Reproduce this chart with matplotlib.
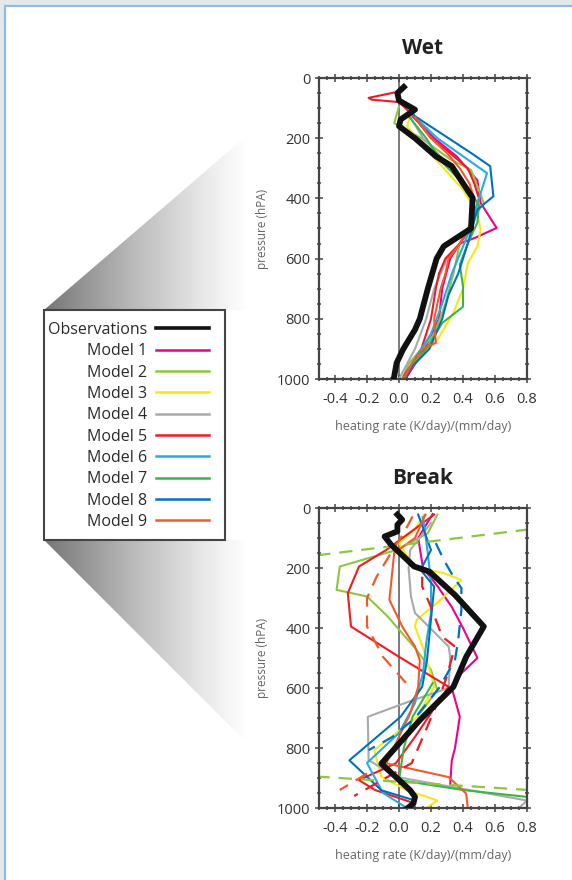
import matplotlib.pyplot as plt
import numpy as np
from matplotlib.colors import LinearSegmentedColormap
from matplotlib.lines import Line2D
from matplotlib.patches import Polygon, Rectangle
from matplotlib.ticker import MultipleLocator

plt.rcParams['font.family'] = ['Open Sans', 'DejaVu Sans']

# ---- legend / series names and colours ----
names = ["Observations", "Model 1", "Model 2", "Model 3", "Model 4", "Model 5",
         "Model 6", "Model 7", "Model 8", "Model 9"]
colors = ["#111111", "#ec008c", "#8dc63f", "#f5e816", "#a7a9ac", "#ed1c24",
          "#29abe2", "#39b54a", "#0072bc", "#f15a29"]

# ---- Wet regime: pressure (hPa) and heating rate ((K/day)/(mm/day)) ----
wet_obs_p = [30, 50, 75, 105, 138, 160, 200, 260, 293, 350, 398, 450, 500, 559, 600, 700, 800, 836, 902, 947, 991]
wet_obs_x = [0.03, -0.01, 0.0, 0.10, 0.01, 0.0, 0.10, 0.23, 0.33, 0.40, 0.46, 0.455, 0.45, 0.28, 0.235, 0.18, 0.13, 0.10, 0.025, -0.015, -0.03]

wet_m1_p = [125, 200, 260, 340, 415, 498, 530, 550, 600, 700, 800, 900, 1000]
wet_m1_x = [0.08, 0.22, 0.36, 0.49, 0.51, 0.61, 0.48, 0.38, 0.32, 0.27, 0.25, 0.16, 0.04]
wet_m2_p = [94, 150, 200, 270, 305, 415, 470, 550, 650, 750, 850, 950, 1000]
wet_m2_x = [0.0, -0.03, 0.14, 0.32, 0.45, 0.53, 0.46, 0.38, 0.34, 0.29, 0.22, 0.06, 0.02]
wet_m3_p = [110, 160, 230, 300, 371, 450, 504, 560, 615, 700, 780, 870, 950, 1000]
wet_m3_x = [0.08, 0.05, 0.16, 0.28, 0.40, 0.49, 0.51, 0.49, 0.43, 0.40, 0.34, 0.24, 0.08, 0.02]
wet_m4_p = [120, 200, 300, 400, 500, 600, 700, 800, 900, 1000]
wet_m4_x = [0.06, 0.15, 0.33, 0.47, 0.46, 0.30, 0.22, 0.17, 0.10, 0.0]
wet_m5_p = [45, 66, 72, 80, 120, 200, 250, 300, 350, 400, 450, 500, 550, 600, 650, 700, 800, 900, 950, 990]
wet_m5_x = [0.0, -0.19, -0.17, 0.0, 0.08, 0.20, 0.32, 0.43, 0.47, 0.50, 0.47, 0.44, 0.38, 0.29, 0.25, 0.23, 0.20, 0.14, 0.08, 0.03]
wet_m6_p = [120, 200, 260, 316, 400, 480, 560, 650, 750, 850, 950, 1000]
wet_m6_x = [0.08, 0.24, 0.40, 0.55, 0.50, 0.46, 0.40, 0.33, 0.27, 0.20, 0.08, 0.03]
wet_m7_p = [120, 200, 280, 350, 420, 480, 550, 620, 692, 760, 814, 900, 1000]
wet_m7_x = [0.05, 0.17, 0.27, 0.40, 0.50, 0.49, 0.43, 0.38, 0.40, 0.40, 0.27, 0.17, 0.02]
wet_m8_p = [105, 127, 249, 293, 393, 437, 550, 650, 720, 800, 900, 960, 1000]
wet_m8_x = [0.07, 0.10, 0.45, 0.57, 0.59, 0.49, 0.43, 0.37, 0.31, 0.27, 0.19, 0.08, 0.03]
wet_m9_p = [130, 200, 250, 300, 350, 400, 450, 500, 550, 600, 650, 700, 800, 880, 900, 950, 1000]
wet_m9_x = [0.10, 0.20, 0.30, 0.38, 0.44, 0.47, 0.45, 0.44, 0.38, 0.31, 0.29, 0.26, 0.22, 0.23, 0.15, 0.08, 0.03]

# ---- Break regime ----
brk_obs_p = [22, 39, 56, 78, 95, 122, 195, 212, 290, 395, 496, 596, 707, 852, 941, 963, 985, 1002]
brk_obs_x = [-0.01, 0.02, -0.01, -0.01, -0.09, -0.05, 0.095, 0.19, 0.35, 0.53, 0.42, 0.34, 0.13, -0.11, 0.07, 0.10, 0.09, 0.05]

brk_m1_p = [20, 100, 200, 260, 330, 400, 500, 551, 600, 696, 800, 841, 920]
brk_m1_x = [0.21, 0.12, 0.15, 0.24, 0.33, 0.40, 0.49, 0.39, 0.33, 0.38, 0.35, 0.33, 0.32]
brk_m2_p = [22, 84, 139, 195, 273, 295, 362, 473, 540, 607, 685]
brk_m2_x = [0.24, 0.18, -0.01, -0.37, -0.39, -0.20, -0.07, 0.11, 0.20, 0.24, 0.13]
brk_m2d_p = [46, 170, 889, 953]
brk_m2d_x = [1.2, -0.7, -0.7, 1.2]
brk_m3_p = [22, 73, 117, 195, 217, 240, 306, 373, 395, 473, 596, 696, 807, 896, 941, 975, 997]
brk_m3_x = [0.155, 0.10, 0.0, 0.09, 0.28, 0.39, 0.26, 0.11, 0.10, 0.155, 0.22, 0.115, -0.155, -0.11, 0.05, 0.24, 0.18]
brk_m4_p = [50, 140, 200, 296, 350, 395, 462, 496, 600, 641, 696, 840, 896, 975, 1000]
brk_m4_x = [0.20, 0.07, 0.06, 0.075, 0.10, 0.185, 0.31, 0.32, 0.31, 0.085, -0.195, -0.19, -0.02, 0.80, 0.75]
brk_m5_p = [22, 140, 195, 284, 395, 496, 596, 763, 851, 907, 940, 985]
brk_m5_x = [0.22, -0.08, -0.25, -0.32, -0.30, 0.0, 0.31, 0.10, -0.02, -0.25, -0.15, 0.10]
brk_m5d_p = [229, 262, 330, 429, 462, 560, 650, 750, 850, 960]
brk_m5d_x = [0.145, 0.145, 0.20, 0.27, 0.35, 0.30, 0.24, 0.16, 0.08, -0.28]
brk_m6_p = [30, 150, 250, 350, 450, 550, 650, 750, 850, 950, 1000]
brk_m6_x = [0.15, 0.18, 0.20, 0.20, 0.17, 0.15, 0.10, 0.0, -0.20, -0.10, 0.05]
brk_m7_p = [584, 696, 800, 907, 940, 963]
brk_m7_x = [0.21, 0.085, 0.03, 0.0, 0.40, 0.80]
brk_m8_p = [22, 140, 206, 262, 507, 596, 696, 841, 941, 975, 1000]
brk_m8_x = [0.12, 0.20, 0.135, 0.22, 0.175, 0.145, 0.01, -0.31, -0.11, 0.10, 0.08]
brk_m8d_p = [117, 173, 229, 267, 340, 440, 507, 600, 700, 763, 807]
brk_m8d_x = [0.23, 0.28, 0.34, 0.39, 0.39, 0.37, 0.35, 0.25, 0.10, -0.04, -0.19]
brk_m9_p = [22, 100, 150, 306, 395, 462, 507, 596, 685, 851, 897, 952, 1000]
brk_m9_x = [0.165, 0.10, -0.03, -0.06, 0.02, 0.10, 0.13, 0.12, 0.07, -0.08, 0.31, 0.42, 0.43]
brk_m9d_p = [28, 83, 150, 229, 300, 395, 496, 584]
brk_m9d_x = [0.085, 0.03, -0.05, -0.14, -0.20, -0.20, -0.10, 0.045]
brk_m9d2_p = [885, 940]
brk_m9d2_x = [-0.20, -0.37]

wet_models = [(wet_m1_x, wet_m1_p), (wet_m2_x, wet_m2_p), (wet_m3_x, wet_m3_p),
              (wet_m4_x, wet_m4_p), (wet_m5_x, wet_m5_p), (wet_m6_x, wet_m6_p),
              (wet_m7_x, wet_m7_p), (wet_m8_x, wet_m8_p), (wet_m9_x, wet_m9_p)]
brk_models = [(brk_m1_x, brk_m1_p), (brk_m2_x, brk_m2_p), (brk_m3_x, brk_m3_p),
              (brk_m4_x, brk_m4_p), (brk_m5_x, brk_m5_p), (brk_m6_x, brk_m6_p),
              (brk_m7_x, brk_m7_p), (brk_m8_x, brk_m8_p), (brk_m9_x, brk_m9_p)]
# dashed companion runs: (colour index, x, p)
brk_dashed = [(2, brk_m2d_x, brk_m2d_p), (5, brk_m5d_x, brk_m5d_p),
              (8, brk_m8d_x, brk_m8d_p), (9, brk_m9d_x, brk_m9d_p),
              (9, brk_m9d2_x, brk_m9d2_p)]

W, H = 572, 880
fig = plt.figure(figsize=(W / 100, H / 100), dpi=100, facecolor="#e4e8ea")

# background frame, grey fan wedges and legend box (pixel coordinates)
bg = fig.add_axes([0, 0, 1, 1], zorder=-1)
bg.set_axis_off()
bg.add_patch(Rectangle((5, 6), W, H, facecolor="white", edgecolor="#8cbde2", lw=1.6, zorder=1))
fan = LinearSegmentedColormap.from_list(
    "fan", [(0.0, "#767676"), (0.38, "#b8b8b8"), (0.72, "#eaeaea"), (0.9, "#ffffff"), (1.0, "#ffffff")])
grad = np.linspace(0, 1, 256)[None, :]
for verts, ext in [([(44, 310), (250, 133), (270, 133), (270, 310)], (44, 270, 310, 130)),
                   ([(44, 540), (270, 540), (270, 766)], (44, 270, 770, 540))]:
    poly = Polygon(verts, closed=True, facecolor="none", edgecolor="none", zorder=2)
    bg.add_patch(poly)
    im = bg.imshow(grad, cmap=fan, extent=ext, aspect="auto", interpolation="bilinear", zorder=3)
    im.set_clip_path(poly)
bg.add_patch(Rectangle((44, 310), 181, 230, facecolor="white", edgecolor="#444444",
                       lw=1.5, zorder=4))
bg.set_xlim(0, W)
bg.set_ylim(H, 0)

ax_l, ax_w = 319 / W, 208 / W
ax_wet = fig.add_axes([ax_l, (H - 379) / H, ax_w, 301 / H])
ax_brk = fig.add_axes([ax_l, (H - 808) / H, ax_w, 300 / H])


def style_axis(ax, title):
    ax.axvline(0, color="#7a7a7a", lw=1.4, zorder=1)
    ax.set_xlim(-0.5, 0.8)
    ax.set_ylim(1000, 0)
    ax.xaxis.set_minor_locator(MultipleLocator(0.05))
    ax.yaxis.set_major_locator(MultipleLocator(200))
    ax.yaxis.set_minor_locator(MultipleLocator(50))
    ax.set_xticks(np.arange(-0.4, 0.81, 0.2))
    ax.set_xticklabels(["-0.4", "-0.2", "0.0", "0.2", "0.4", "0.6", "0.8"])
    ax.tick_params(which="both", direction="inout", top=True, right=True,
                   color="#444444", width=1.1)
    ax.tick_params(which="major", length=6, labelsize=10.5, labelcolor="#333333")
    ax.tick_params(which="minor", length=3.5)
    ax.tick_params(axis="x", which="major", pad=6)
    ax.tick_params(axis="y", which="major", pad=3)
    for s in ax.spines.values():
        s.set_color("#444444")
        s.set_linewidth(1.6)
    ax.set_title(title, fontsize=15, fontweight="bold", color="#222222", pad=17)
    ax.set_xlabel("heating rate (K/day)/(mm/day)", fontsize=9, color="#666666", labelpad=10)
    ax.set_ylabel("pressure (hPA)", fontsize=8.5, color="#666666", labelpad=6)


style_axis(ax_wet, "Wet")
style_axis(ax_brk, "Break")

for (x, p), c in zip(wet_models, colors[1:]):
    ax_wet.plot(x, p, color=c, lw=1.5, zorder=2)
ax_wet.plot(wet_obs_x, wet_obs_p, color=colors[0], lw=4.2, zorder=3)

for (x, p), c in zip(brk_models, colors[1:]):
    ax_brk.plot(x, p, color=c, lw=1.5, zorder=2)
for i, x, p in brk_dashed:
    ax_brk.plot(x, p, color=colors[i], lw=1.6, ls=(0, (6, 4)), zorder=2)
ax_brk.plot(brk_obs_x, brk_obs_p, color=colors[0], lw=4.2, zorder=3)

handles = [Line2D([], [], color=c, lw=2.6 if i == 0 else 1.8) for i, c in enumerate(colors)]
leg = fig.legend(handles, names, loc="upper left", bbox_to_anchor=(48 / W, 1 - 322 / H),
                 bbox_transform=fig.transFigure, markerfirst=False, frameon=False,
                 fontsize=11.5, handlelength=3.3, handletextpad=0.55, labelspacing=0.333,
                 borderpad=0, borderaxespad=0)
for t in leg.get_texts():
    t.set_color("#2a2a2a")

fig.savefig("out.png", dpi=100, facecolor=fig.get_facecolor())
